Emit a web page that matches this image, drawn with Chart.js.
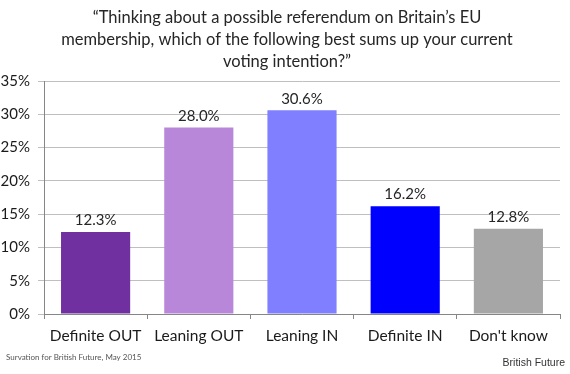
<!DOCTYPE html>
<html>
<head>
<meta charset="utf-8">
<script src="https://cdn.jsdelivr.net/npm/chart.js@4/dist/chart.umd.min.js"></script>
<style>
  html, body { margin: 0; padding: 0; background: #fff; }
  #wrap { width: 570px; height: 374px; position: relative; }
</style>
</head>
<body>
<div id="wrap"><canvas id="chart"></canvas></div>
<script>
// survey answers and share of respondents (%)
const categories = ["Definite OUT", "Leaning OUT", "Leaning IN", "Definite IN", "Don't know"];
const shares = [12.3, 28.0, 30.6, 16.2, 12.8];
const barColours = ["#7030a0", "#b987d9", "#7f7fff", "#0000ff", "#a6a6a6"];
const yTicks = [0, 5, 10, 15, 20, 25, 30, 35];

const titleLines = [
  "\u201cThinking about a possible referendum on Britain\u2019s EU",
  "membership, which of the following best sums up your current",
  "voting intention?\u201d"
];
const sourceNote = "Survation for British Future, May 2015";
const brand = "British Future";

const FONT = "Lato, 'Open Sans', sans-serif";

// title, value labels and footer text
const extras = {
  id: "extras",
  afterDatasetsDraw(chart) {
    const { ctx } = chart;
    ctx.save();
    ctx.fillStyle = "#262626";
    ctx.textAlign = "center";
    ctx.textBaseline = "middle";
    ctx.font = "16.5px " + FONT;
    titleLines.forEach((t, i) => ctx.fillText(t, 287, 18 + i * 22));

    ctx.font = "15px " + FONT;
    ctx.textBaseline = "bottom";
    chart.getDatasetMeta(0).data.forEach((bar, i) => {
      ctx.fillText(shares[i].toFixed(1) + "%", bar.x, bar.y - 4);
    });

    ctx.textBaseline = "middle";
    ctx.textAlign = "left";
    ctx.fillStyle = "#555";
    ctx.font = "8px " + FONT;
    ctx.fillText(sourceNote, 6, 357);

    ctx.textAlign = "right";
    ctx.fillStyle = "#333";
    ctx.font = "10.5px 'Liberation Sans', Arial, sans-serif";
    ctx.fillText(brand, 565, 363);
    ctx.restore();
  }
};

new Chart(document.getElementById("chart").getContext("2d"), {
  type: "bar",
  data: {
    labels: categories,
    datasets: [{
      data: shares,
      backgroundColor: barColours,
      borderWidth: 0,
      categoryPercentage: 1,
      barPercentage: 0.67
    }]
  },
  options: {
    responsive: true,
    maintainAspectRatio: false,
    animation: false,
    layout: { padding: { top: 81, right: 10, left: 0, bottom: 0 } },
    plugins: { legend: { display: false }, title: { display: false }, tooltip: { enabled: false } },
    scales: {
      x: {
        afterFit(scale) { scale.height = 60; },
        grid: { drawOnChartArea: false, offset: true, tickLength: 5, color: "#868686" },
        border: { color: "#868686" },
        ticks: { color: "#1a1a1a", font: { family: FONT, size: 15.5 }, padding: 8, maxRotation: 0, minRotation: 0, autoSkip: false }
      },
      y: {
        min: 0,
        max: 35,
        afterFit(scale) { scale.width = 44; },
        afterBuildTicks(scale) { scale.ticks = yTicks.map(v => ({ value: v })); },
        grid: { color: "#bfbfbf", tickLength: 6 },
        border: { color: "#868686" },
        ticks: { color: "#1a1a1a", font: { family: FONT, size: 15 }, padding: 8, callback: v => v + "%" }
      }
    }
  },
  plugins: [extras]
});
</script>
</body>
</html>
